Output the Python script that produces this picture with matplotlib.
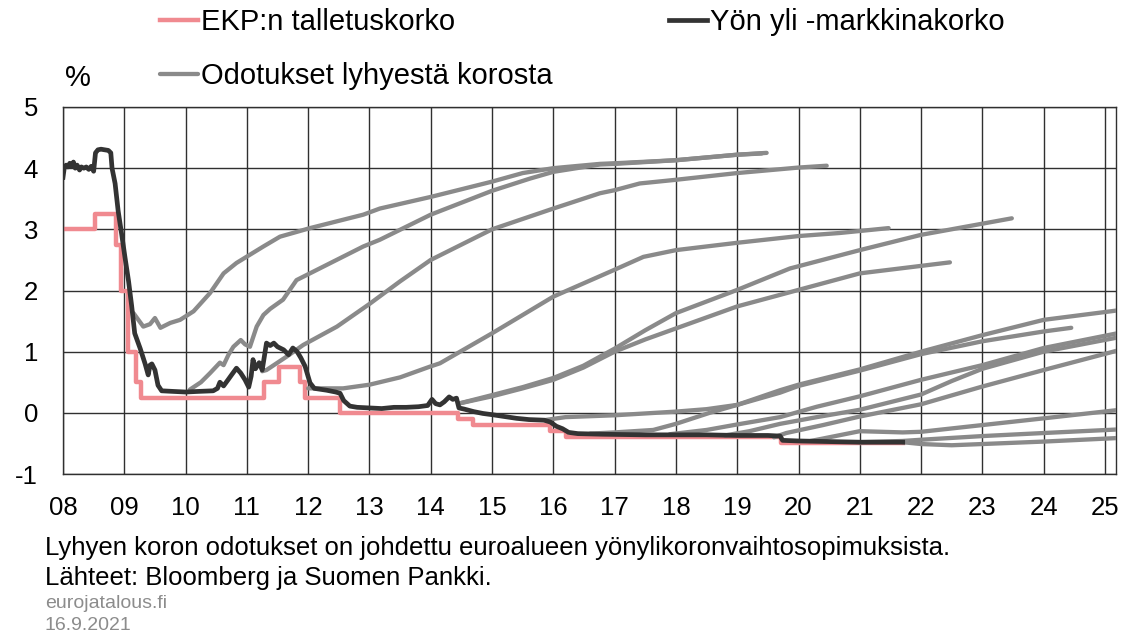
import matplotlib
matplotlib.use('Agg')
import matplotlib.pyplot as plt

plt.rcParams['font.family'] = ['Liberation Sans', 'DejaVu Sans']

# ---------------- data ----------------
# ECB deposit facility rate (step changes)
ecb_t = [2008.00, 2008.52, 2008.865, 2008.94, 2009.055, 2009.19, 2009.27, 2011.28, 2011.53,
         2011.86, 2011.95, 2012.525, 2014.44, 2014.69, 2015.94, 2016.21, 2019.715, 2021.70]
ecb_v = [3.00, 3.25, 2.75, 2.00, 1.00, 0.50, 0.25, 0.50, 0.75,
         0.50, 0.25, 0.00, -0.10, -0.20, -0.30, -0.40, -0.50, -0.50]

# Overnight market rate (EONIA)
eonia_t = [2008.00, 2008.02, 2008.05, 2008.08, 2008.11, 2008.14, 2008.17, 2008.20, 2008.23, 2008.27,
           2008.30, 2008.34, 2008.38, 2008.42, 2008.46, 2008.50, 2008.53, 2008.57, 2008.62, 2008.68,
           2008.74, 2008.78, 2008.80, 2008.85, 2008.90, 2008.96, 2009.01, 2009.07, 2009.12, 2009.17,
           2009.26, 2009.34, 2009.39, 2009.42, 2009.45, 2009.50, 2009.55, 2009.61, 2009.80, 2010.00,
           2010.20, 2010.45, 2010.52, 2010.56, 2010.62, 2010.70, 2010.75, 2010.83, 2010.90, 2010.97,
           2011.03, 2011.07, 2011.10, 2011.14, 2011.20, 2011.25, 2011.32, 2011.38, 2011.44, 2011.50,
           2011.60, 2011.68, 2011.75, 2011.82, 2011.88, 2011.95, 2012.03, 2012.10, 2012.30, 2012.45,
           2012.52, 2012.58, 2012.68, 2012.80, 2013.00, 2013.20, 2013.40, 2013.60, 2013.80, 2013.95,
           2014.02, 2014.08, 2014.15, 2014.22, 2014.30, 2014.36, 2014.42, 2014.46, 2014.55, 2014.70,
           2014.85, 2015.00, 2015.20, 2015.40, 2015.60, 2015.85, 2015.95, 2016.05, 2016.15, 2016.25,
           2016.40, 2016.80, 2017.50, 2018.00, 2018.50, 2019.00, 2019.50, 2019.70, 2019.74, 2020.00,
           2020.50, 2021.00, 2021.70]
eonia_v = [3.85, 4.00, 4.05, 4.02, 4.08, 4.03, 4.10, 4.00, 4.05, 3.97,
           4.02, 4.00, 4.02, 3.98, 4.03, 3.95, 4.25, 4.30, 4.31, 4.30,
           4.29, 4.25, 4.00, 3.75, 3.30, 2.90, 2.55, 2.15, 1.75, 1.30,
           1.05, 0.80, 0.62, 0.78, 0.80, 0.70, 0.45, 0.36, 0.35, 0.34,
           0.35, 0.36, 0.40, 0.50, 0.44, 0.55, 0.62, 0.73, 0.65, 0.54,
           0.42, 0.60, 0.87, 0.72, 0.82, 0.70, 1.14, 1.10, 1.14, 1.08,
           1.03, 0.95, 1.06, 1.00, 0.90, 0.76, 0.49, 0.40, 0.37, 0.34,
           0.32, 0.20, 0.11, 0.09, 0.08, 0.07, 0.09, 0.09, 0.10, 0.12,
           0.22, 0.15, 0.13, 0.18, 0.26, 0.22, 0.24, 0.08, 0.06, 0.02,
           -0.01, -0.03, -0.06, -0.09, -0.11, -0.12, -0.15, -0.22, -0.26, -0.32,
           -0.34, -0.35, -0.36, -0.36, -0.36, -0.37, -0.37, -0.38, -0.45, -0.46,
           -0.47, -0.48, -0.48]

# Expectations of the short rate (one curve per pricing date)
exp_a_t = [2009.15, 2009.31, 2009.42, 2009.50, 2009.59, 2009.75, 2009.91, 2010.13, 2010.40, 2010.62,
           2010.83, 2011.27, 2011.54, 2012.03, 2012.90, 2013.17, 2014.00, 2015.00, 2015.50, 2016.00,
           2016.76, 2017.00, 2018.00, 2019.00, 2019.48]
exp_a_v = [1.63, 1.41, 1.45, 1.55, 1.39, 1.47, 1.52, 1.66, 1.96, 2.28,
           2.45, 2.72, 2.88, 3.02, 3.24, 3.34, 3.53, 3.78, 3.92, 4.00,
           4.07, 4.08, 4.13, 4.22, 4.25]
exp_b_t = [2010.07, 2010.25, 2010.40, 2010.56, 2010.62, 2010.70, 2010.78, 2010.90, 2010.97, 2011.05,
           2011.16, 2011.27, 2011.38, 2011.59, 2011.81, 2012.90, 2013.17, 2014.00, 2015.00, 2015.62,
           2016.00, 2016.76, 2017.00, 2018.00, 2019.00, 2019.40]
exp_b_v = [0.38, 0.50, 0.65, 0.82, 0.78, 0.95, 1.08, 1.19, 1.12, 1.08,
           1.41, 1.60, 1.70, 1.85, 2.17, 2.72, 2.83, 3.24, 3.63, 3.83,
           3.94, 4.06, 4.07, 4.13, 4.22, 4.24]
exp_c_t = [2011.25, 2011.32, 2011.50, 2011.65, 2011.92, 2012.47, 2013.00, 2013.50, 2014.00, 2015.00,
           2016.00, 2016.76, 2017.00, 2017.41, 2018.00, 2019.00, 2020.00, 2020.46]
exp_c_v = [0.68, 0.70, 0.82, 0.92, 1.11, 1.41, 1.78, 2.15, 2.50, 3.00,
           3.34, 3.59, 3.64, 3.75, 3.81, 3.92, 4.01, 4.04]
exp_d_t = [2012.00, 2012.57, 2013.00, 2013.50, 2014.00, 2014.15, 2015.00, 2016.00, 2017.00, 2017.47,
           2018.00, 2019.00, 2020.00, 2020.67, 2021.47]
exp_d_v = [0.40, 0.40, 0.46, 0.58, 0.76, 0.81, 1.30, 1.90, 2.34, 2.55,
           2.66, 2.78, 2.89, 2.94, 3.02]
exp_e_t = [2014.45, 2015.00, 2015.50, 2016.00, 2016.49, 2017.00, 2017.50, 2018.00, 2019.00, 2020.00,
           2021.00, 2022.47]
exp_e_v = [0.15, 0.27, 0.40, 0.54, 0.74, 1.00, 1.20, 1.38, 1.74, 2.01,
           2.28, 2.46]
exp_f_t = [2014.45, 2015.00, 2015.50, 2016.00, 2016.49, 2017.00, 2017.50, 2018.00, 2019.00, 2019.86,
           2021.00, 2022.00, 2023.48]
exp_f_v = [0.15, 0.29, 0.42, 0.57, 0.77, 1.05, 1.35, 1.63, 2.01, 2.36,
           2.66, 2.91, 3.18]
exp_g_t = [2015.85, 2016.20, 2017.00, 2018.00, 2018.50, 2019.00, 2019.70, 2020.00, 2021.00, 2022.00,
           2023.00, 2024.00, 2024.45]
exp_g_v = [-0.12, -0.07, -0.04, 0.02, 0.06, 0.13, 0.33, 0.44, 0.69, 0.96,
           1.17, 1.33, 1.39]
exp_h_t = [2016.60, 2017.00, 2017.63, 2018.00, 2018.55, 2019.00, 2019.70, 2020.00, 2021.00, 2022.00,
           2023.00, 2024.00, 2025.25]
exp_h_v = [-0.34, -0.32, -0.28, -0.18, 0.00, 0.13, 0.37, 0.46, 0.71, 1.00,
           1.27, 1.52, 1.68]
exp_i_t = [2017.90, 2018.50, 2019.00, 2019.70, 2020.30, 2021.00, 2022.00, 2023.00, 2024.00, 2025.25]
exp_i_v = [-0.35, -0.28, -0.19, -0.07, 0.10, 0.27, 0.54, 0.78, 1.06, 1.31]
exp_j_t = [2018.80, 2019.20, 2019.70, 2020.30, 2021.00, 2022.00, 2022.50, 2023.00, 2024.00, 2025.25]
exp_j_v = [-0.37, -0.30, -0.18, -0.07, 0.05, 0.30, 0.52, 0.72, 1.00, 1.24]
exp_k_t = [2019.60, 2019.80, 2020.40, 2021.00, 2022.00, 2023.00, 2024.00, 2025.25]
exp_k_v = [-0.40, -0.33, -0.20, -0.06, 0.14, 0.43, 0.70, 1.03]
exp_l_t = [2020.20, 2021.00, 2021.70, 2022.00, 2023.00, 2024.00, 2025.25]
exp_l_v = [-0.46, -0.30, -0.32, -0.31, -0.20, -0.09, 0.05]
exp_m_t = [2021.00, 2021.70, 2022.00, 2023.00, 2024.00, 2025.25]
exp_m_v = [-0.48, -0.46, -0.44, -0.38, -0.33, -0.27]
exp_n_t = [2021.70, 2022.00, 2022.50, 2023.00, 2024.00, 2025.25]
exp_n_v = [-0.48, -0.51, -0.53, -0.51, -0.47, -0.41]

expectations = [(exp_a_t, exp_a_v), (exp_b_t, exp_b_v), (exp_c_t, exp_c_v), (exp_d_t, exp_d_v),
                (exp_e_t, exp_e_v), (exp_f_t, exp_f_v), (exp_g_t, exp_g_v), (exp_h_t, exp_h_v),
                (exp_i_t, exp_i_v), (exp_j_t, exp_j_v), (exp_k_t, exp_k_v), (exp_l_t, exp_l_v),
                (exp_m_t, exp_m_v), (exp_n_t, exp_n_v)]

year_ticks = list(range(2008, 2026))
year_labels = ['08', '09', '10', '11', '12', '13', '14', '15', '16', '17', '18', '19', '20',
               '21', '22', '23', '24', '25']
y_ticks = [-1, 0, 1, 2, 3, 4, 5]

label_ecb = 'EKP:n talletuskorko'
label_eonia = 'Yön yli -markkinakorko'
label_exp = 'Odotukset lyhyestä korosta'

# ---------------- drawing ----------------
W, H = 1123, 637
PINK = '#F08A90'
BLACK = '#333333'
GRAY = '#8A8A8A'
GRID = '#303030'

fig = plt.figure(figsize=(W / 100, H / 100), dpi=100)
ax = fig.add_axes([63 / W, 1 - 474 / H, (1116 - 63) / W, (474 - 107) / H])

ecb_line, = ax.step(ecb_t, ecb_v, where='post', color=PINK, lw=3.2, zorder=2)
exp_lines = []
for t, v in expectations:
    ln, = ax.plot(t, v, color=GRAY, lw=3.1, zorder=3, solid_capstyle='round')
    exp_lines.append(ln)
eonia_line, = ax.plot(eonia_t, eonia_v, color=BLACK, lw=3.4, zorder=4, solid_joinstyle='round')

ax.set_xlim(2008, 2025.18)
ax.set_ylim(-1, 5)
ax.set_xticks(year_ticks)
ax.set_xticklabels(year_labels)
ax.set_yticks(y_ticks)
ax.set_yticklabels([str(v) for v in y_ticks])
ax.set_axisbelow(True)
ax.grid(True, color=GRID, lw=1.0)
ax.tick_params(axis='both', length=0, labelsize=18.5)
ax.tick_params(axis='x', pad=16)
ax.tick_params(axis='y', pad=18)
for s in ax.spines.values():
    s.set_color(GRID)
    s.set_linewidth(1.0)

fig.legend(handles=[ecb_line, exp_lines[0], eonia_line],
           labels=[label_ecb, label_exp, label_eonia],
           ncol=2, loc='upper left', bbox_to_anchor=(160 / W, 1 - 8 / H),
           frameon=False, fontsize=21, handlelength=1.3, handletextpad=0.1,
           columnspacing=4.0, labelspacing=0.9, borderpad=0, borderaxespad=0)

fig.text(65 / W, 1 - 78 / H, '%', fontsize=21, va='center', ha='left')

fig.text(45 / W, 1 - 548 / H,
         'Lyhyen koron odotukset on johdettu euroalueen yönylikoronvaihtosopimuksista.',
         fontsize=18.5, va='center', ha='left')
fig.text(45 / W, 1 - 578 / H, 'Lähteet: Bloomberg ja Suomen Pankki.',
         fontsize=18.5, va='center', ha='left')
fig.text(45 / W, 1 - 604 / H, 'eurojatalous.fi', fontsize=14, color='#8C8C8C',
         va='center', ha='left')
fig.text(45 / W, 1 - 626 / H, '16.9.2021', fontsize=14, color='#8C8C8C',
         va='center', ha='left')

fig.savefig('out.png', dpi=100)
